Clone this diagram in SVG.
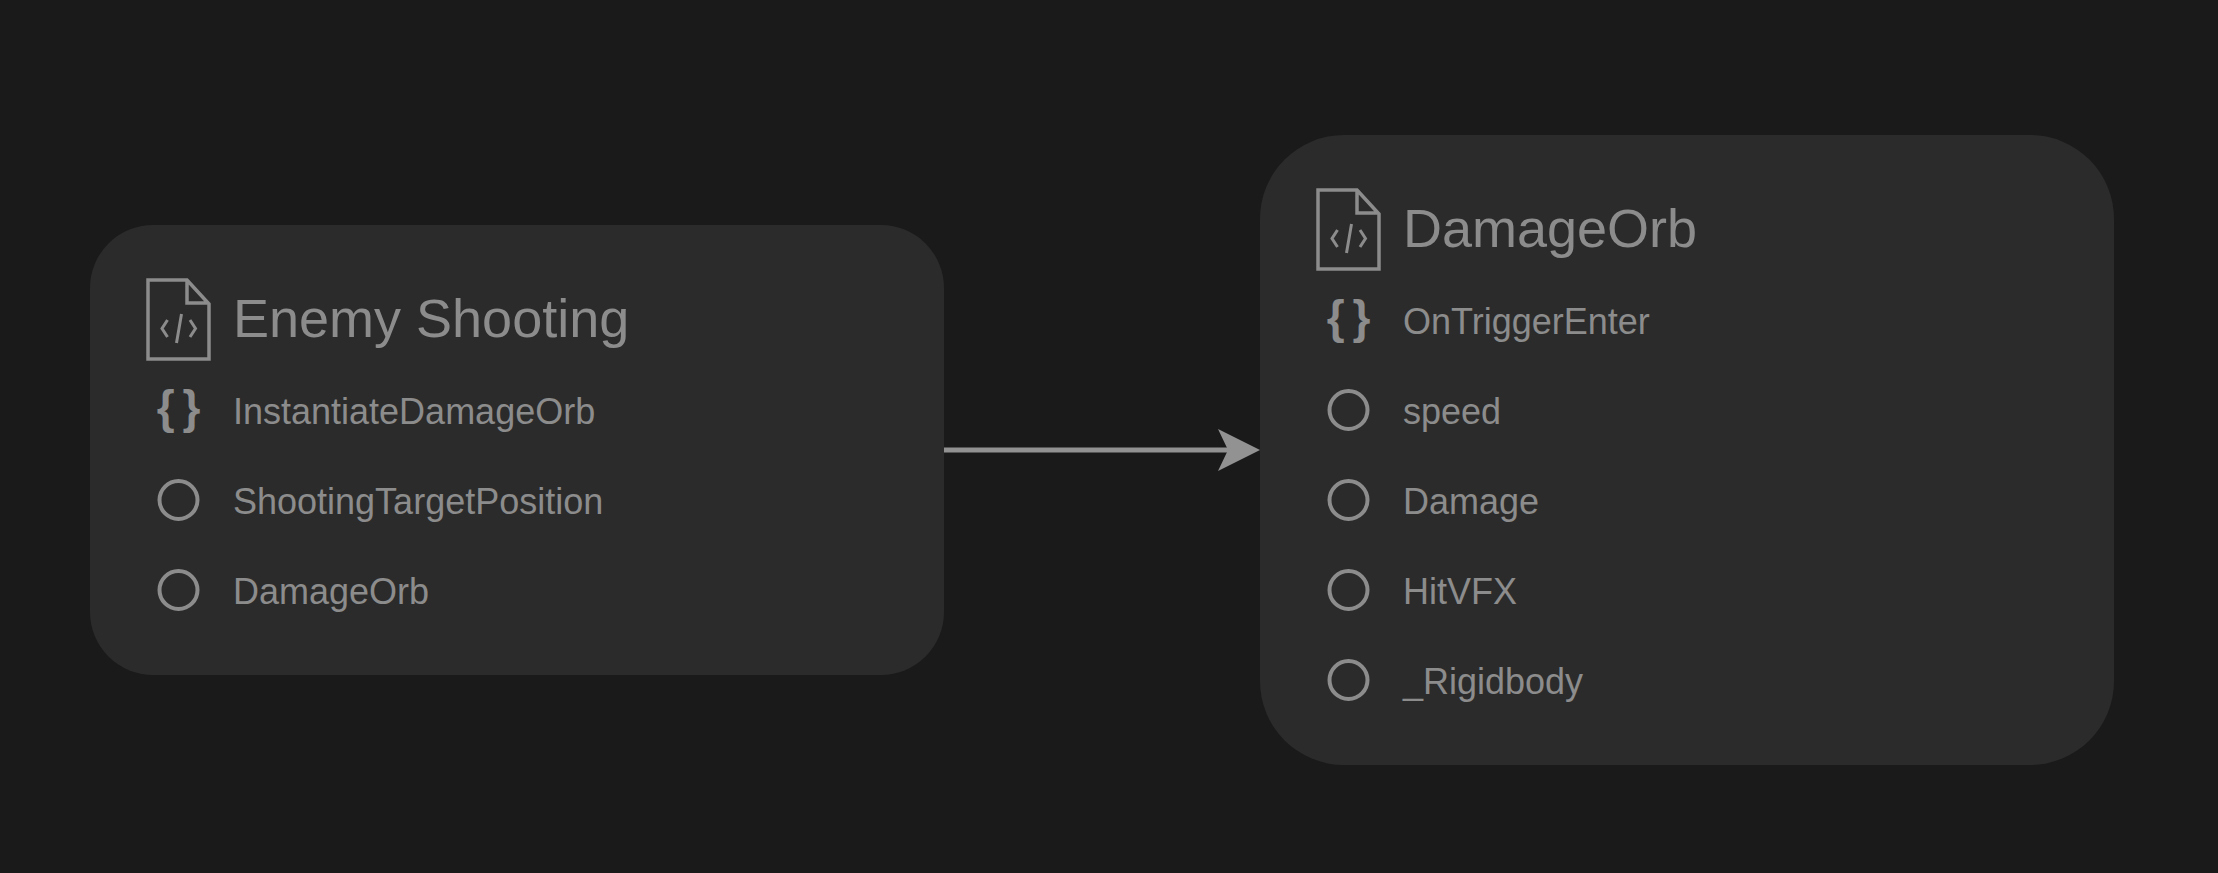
<svg xmlns="http://www.w3.org/2000/svg" width="2218" height="873" viewBox="0 0 2218 873">
<style>
.card{fill:#2b2b2b}
.t{font-family:"Liberation Sans",Arial,sans-serif;fill:#8c8c8c}
.h{font-size:54px}
.i{font-size:36px}
.s{fill:none;stroke:#8c8c8c;stroke-width:4}
.f{fill:none;stroke:#8c8c8c;stroke-width:3.500}
.c{fill:none;stroke:#8c8c8c;stroke-width:3}
.b{font-family:"Liberation Sans",sans-serif;font-weight:bold;font-size:46px;word-spacing:-5px;fill:#8c8c8c;text-anchor:middle}
</style>
<defs>
<g id="file"><path class="f" d="M0 0H39L61 24V79H0Z M39 0V23H61"/><path class="c" d="M19.500 40L14 48.500L19.500 57M42 40L47.500 48.500L42 57M33.500 34L28.500 63"/></g>
<circle id="dot" class="s" r="19"/>
</defs>
<rect width="2218" height="873" fill="#1a1a1a"/>
<g id="connectors"><path d="M944 450H1232" fill="none" stroke="#929292" stroke-width="5"/><path d="M1218 429L1260 450L1218 471L1228 450Z" fill="#929292"/></g>
<g id="enemy-shooting">
<rect class="card" x="90" y="225" width="854" height="450" rx="63"/>
<use href="#file" x="148" y="280"/>
<text class="t h" x="233" y="337">Enemy Shooting</text>
<text class="b" x="178.500" y="423">{ }</text>
<text class="t i" x="233" y="424">InstantiateDamageOrb</text>
<use href="#dot" x="178.500" y="500"/>
<text class="t i" x="233" y="514">ShootingTargetPosition</text>
<use href="#dot" x="178.500" y="590"/>
<text class="t i" x="233" y="604">DamageOrb</text>
</g>
<g id="damage-orb">
<rect class="card" x="1260" y="135" width="854" height="630" rx="84"/>
<use href="#file" x="1318" y="190"/>
<text class="t h" x="1403" y="247">DamageOrb</text>
<text class="b" x="1348.500" y="333">{ }</text>
<text class="t i" x="1403" y="334">OnTriggerEnter</text>
<use href="#dot" x="1348.500" y="410"/>
<text class="t i" x="1403" y="424">speed</text>
<use href="#dot" x="1348.500" y="500"/>
<text class="t i" x="1403" y="514">Damage</text>
<use href="#dot" x="1348.500" y="590"/>
<text class="t i" x="1403" y="604">HitVFX</text>
<use href="#dot" x="1348.500" y="680"/>
<text class="t i" x="1403" y="694">_Rigidbody</text>
</g>
</svg>
